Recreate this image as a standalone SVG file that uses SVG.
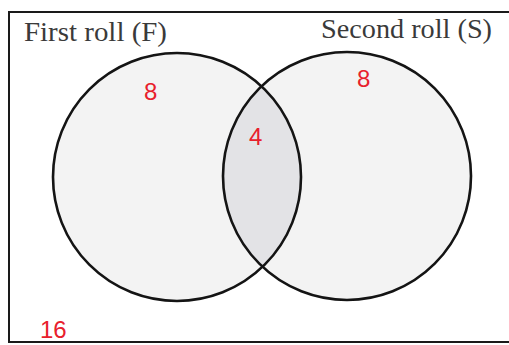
<svg xmlns="http://www.w3.org/2000/svg" width="509" height="345" viewBox="0 0 509 345">
  <style>
    .frame { fill: #ffffff; stroke: #1a1a1a; stroke-width: 2; }
    .set { fill: #f3f3f3; stroke: none; }
    .ring { fill: none; stroke: #141414; stroke-width: 2.6; }
    .lens { fill: #e3e3e6; }
    .title { font-family: "Liberation Serif", "Times New Roman", serif; font-size: 27px; fill: #3a3a3a; }
    .hand { font-family: "Liberation Sans", Arial, sans-serif; font-size: 24px; fill: #e8202c; }
  </style>
  <defs>
    <clipPath id="clipLeft">
      <circle cx="177" cy="177" r="124"/>
    </clipPath>
  </defs>
  <rect class="frame" x="9" y="12" width="510" height="330"/>
  <g id="set-first-fill">
    <circle class="set" cx="177" cy="177" r="124"/>
  </g>
  <g id="set-second-fill">
    <circle class="set" cx="347" cy="176" r="124"/>
  </g>
  <g id="intersection">
    <circle class="lens" cx="347" cy="176" r="124" clip-path="url(#clipLeft)"/>
  </g>
  <g id="first-roll">
    <circle class="ring" cx="177" cy="177" r="124"/>
    <text class="title" x="24" y="41" textLength="143" lengthAdjust="spacingAndGlyphs">First roll (F)</text>
    <text class="hand" x="144" y="100">8</text>
  </g>
  <g id="second-roll">
    <circle class="ring" cx="347" cy="176" r="124"/>
    <text class="title" x="321" y="38" textLength="171" lengthAdjust="spacingAndGlyphs">Second roll (S)</text>
    <text class="hand" x="357" y="87">8</text>
  </g>
  <g id="both">
    <text class="hand" x="249" y="145">4</text>
  </g>
  <g id="neither">
    <text class="hand" x="40" y="338">16</text>
  </g>
  <g id="connectors"></g>
</svg>
